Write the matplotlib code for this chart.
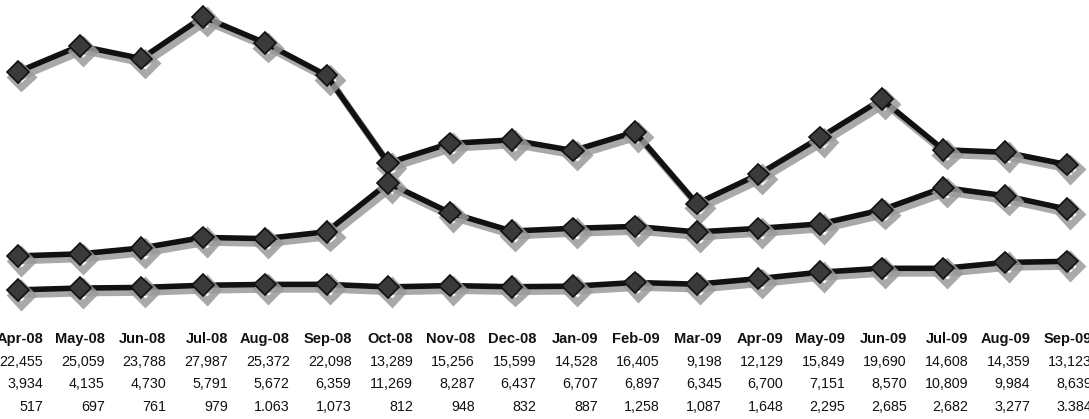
import matplotlib

matplotlib.use("Agg")
import matplotlib.pyplot as plt
import matplotlib.patheffects as pe
import numpy as np

months = ["Apr-08", "May-08", "Jun-08", "Jul-08", "Aug-08", "Sep-08", "Oct-08", "Nov-08", "Dec-08",
          "Jan-09", "Feb-09", "Mar-09", "Apr-09", "May-09", "Jun-09", "Jul-09", "Aug-09", "Sep-09"]
series_a = [22455, 25059, 23788, 27987, 25372, 22098, 13289, 15256, 15599,
            14528, 16405, 9198, 12129, 15849, 19690, 14608, 14359, 13123]
series_b = [3934, 4135, 4730, 5791, 5672, 6359, 11269, 8287, 6437,
            6707, 6897, 6345, 6700, 7151, 8570, 10809, 9984, 8639]
series_c = [517, 697, 761, 979, 1063, 1073, 812, 948, 832,
            887, 1258, 1087, 1648, 2295, 2685, 2682, 3277, 3384]
row_labels = [
    ["22,455", "25,059", "23,788", "27,987", "25,372", "22,098", "13,289", "15,256", "15,599",
     "14,528", "16,405", "9,198", "12,129", "15,849", "19,690", "14,608", "14,359", "13,123"],
    ["3,934", "4,135", "4,730", "5,791", "5,672", "6,359", "11,269", "8,287", "6,437",
     "6,707", "6,897", "6,345", "6,700", "7,151", "8,570", "10,809", "9,984", "8,639"],
    ["517", "697", "761", "979", "1.063", "1,073", "812", "948", "832",
     "887", "1,258", "1,087", "1,648", "2,295", "2,685", "2,682", "3,277", "3.384"],
]

plt.rcParams["font.family"] = ["Liberation Sans", "DejaVu Sans"]

W, H = 1089, 419
fig = plt.figure(figsize=(W / 100, H / 100), dpi=100)
ax = fig.add_axes([0, 0, 1, 1])
ax.set_axis_off()

x = np.arange(len(months))
step = 61.7
x0 = 18
ax.set_xlim(-x0 / step, (W - x0) / step)
# pixel row 295 is zero, about 100.6 units per pixel
upp = 100.6
ax.set_ylim(-(H - 295) * upp, 295 * upp)

shadow = [pe.SimpleLineShadow(offset=(2.5, -3.5), shadow_color="#9a9a9a", alpha=0.85, linewidth=5),
          pe.Normal()]
for vals in (series_a, series_b, series_c):
    ax.plot(x, vals, color="#111111", lw=4, marker="D", markersize=11,
            markerfacecolor="#3a3a3a", markeredgecolor="#111111", markeredgewidth=1.2,
            path_effects=shadow, zorder=3)

# data table under the chart
def to_y(py):
    return 1 - py / H

dx = 25 / step
for i, m in enumerate(months):
    ax.text(i + dx, to_y(339), m, transform=ax.get_xaxis_transform(), ha="right", va="center",
            fontsize=10.5, fontweight="bold", color="#111111")
    for r, py in enumerate((362, 384, 407)):
        ax.text(i + dx, to_y(py), row_labels[r][i], transform=ax.get_xaxis_transform(),
                ha="right", va="center", fontsize=10.3, color="#111111")

fig.savefig("out.png", dpi=100)
plt.close(fig)
